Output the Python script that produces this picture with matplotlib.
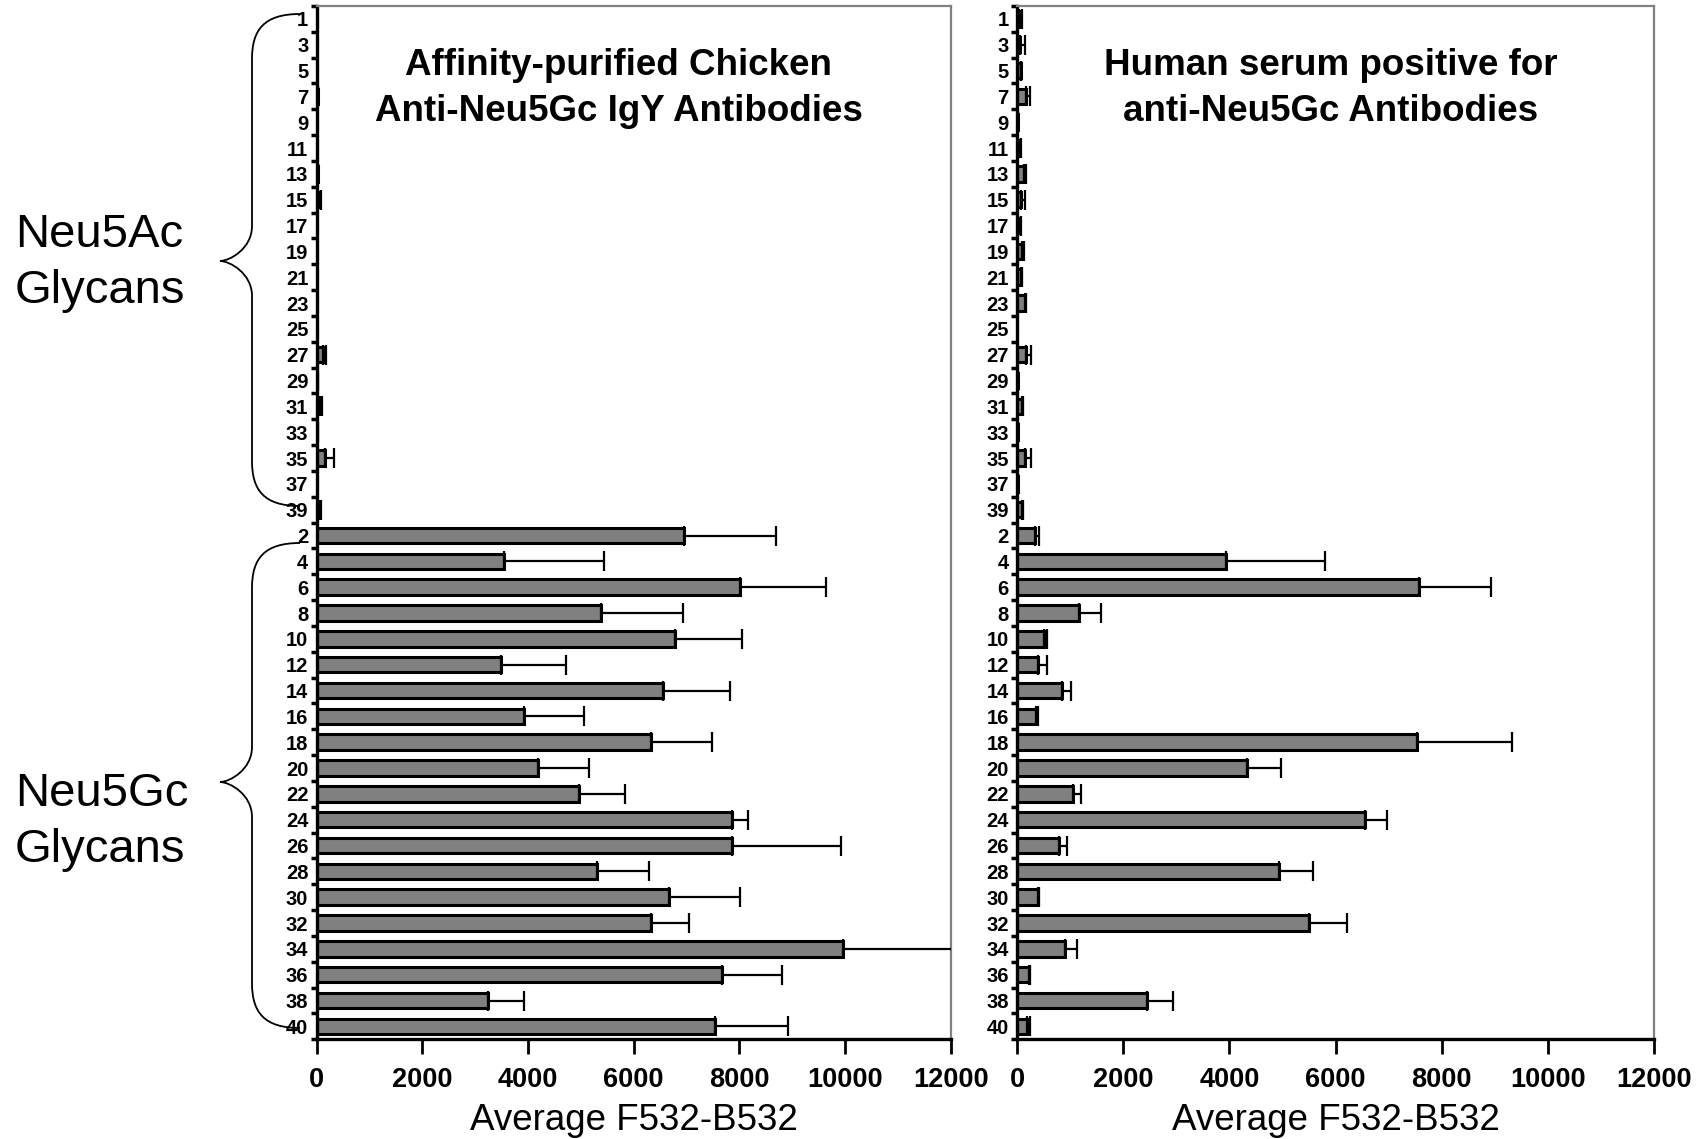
import matplotlib
matplotlib.use("Agg")
import matplotlib.pyplot as plt
from matplotlib.path import Path
from matplotlib.patches import PathPatch
import numpy as np

plt.rcParams['font.family'] = ['Liberation Sans', 'DejaVu Sans']

# ---------------- data ----------------
glycans_ac = ["1", "3", "5", "7", "9", "11", "13", "15", "17", "19",
              "21", "23", "25", "27", "29", "31", "33", "35", "37", "39"]
glycans_gc = ["2", "4", "6", "8", "10", "12", "14", "16", "18", "20",
              "22", "24", "26", "28", "30", "32", "34", "36", "38", "40"]

chicken_ac = [10, 10, 10, 20, 10, 10, 20, 30, 10, 10,
              10, 10, 10, 115, 15, 60, 15, 160, 10, 45]
chicken_ac_err = [5, 5, 5, 5, 5, 5, 5, 50, 5, 5,
                  5, 5, 5, 60, 5, 35, 5, 175, 5, 30]
chicken_gc = [6960, 3550, 8020, 5390, 6780, 3480, 6550, 3930, 6330, 4190,
              4970, 7870, 7870, 5310, 6670, 6330, 9970, 7680, 3250, 7530]
chicken_gc_err = [1740, 1880, 1620, 1540, 1270, 1230, 1280, 1120, 1160, 970,
                  870, 290, 2050, 980, 1340, 710, 2400, 1130, 680, 1390]

human_ac = [30, 50, 70, 175, 10, 20, 130, 70, 10, 95,
            70, 145, 5, 175, 15, 100, 10, 145, 10, 95]
human_ac_err = [65, 95, 10, 65, 0, 60, 35, 90, 60, 30,
                25, 20, 0, 85, 0, 15, 0, 115, 0, 20]
human_gc = [340, 3930, 7570, 1175, 500, 390, 850, 355, 7530, 4330,
            1060, 6550, 790, 4940, 390, 5500, 910, 230, 2450, 190]
human_gc_err = [80, 1880, 1350, 405, 60, 170, 160, 35, 1800, 640,
                150, 420, 160, 640, 30, 710, 220, 10, 480, 60]

xticks = [0, 2000, 4000, 6000, 8000, 10000, 12000]
xlabel = "Average F532-B532"
titles = ["Affinity-purified Chicken\nAnti-Neu5Gc IgY Antibodies",
          "Human serum positive for\nanti-Neu5Gc Antibodies"]
group_labels = ["Neu5Ac\nGlycans", "Neu5Gc\nGlycans"]

# ---------------- figure ----------------
W, H = 1703, 1139
fig = plt.figure(figsize=(W / 100, H / 100), dpi=100)

def fx(px):
    return px / W

def fy(py):
    return 1 - py / H

ax_bottom = fy(1039.3)
ax_height = fy(6) - fy(1039.3)
axes_pos = [(316.7, 634), (1017, 637)]

cats = glycans_ac + glycans_gc
ypos = np.arange(len(cats))

panels = [(chicken_ac + chicken_gc, chicken_ac_err + chicken_gc_err, 0.476),
          (human_ac + human_gc, human_ac_err + human_gc_err, 0.493)]

for i, ((x0, w), (vals, errs, tx)) in enumerate(zip(axes_pos, panels)):
    ax = fig.add_axes([fx(x0), ax_bottom, w / W, ax_height])
    ax.barh(ypos, vals, height=0.6, color='#808080', edgecolor='black',
            linewidth=2.2, zorder=2)
    ax.errorbar(vals, ypos, xerr=[np.zeros(len(errs)), errs], fmt='none',
                ecolor='black', elinewidth=1.6, capsize=7, capthick=1.6,
                zorder=3)
    ax.set_ylim(len(cats) - 0.5, -0.5)
    ax.set_xlim(0, 12000)
    ax.set_yticks(ypos)
    ax.set_yticklabels(cats, fontsize=14.5, fontweight='bold')
    ax.set_yticks(np.arange(len(cats) + 1) - 0.5, minor=True)
    ax.tick_params(axis='y', which='major', length=0, pad=6)
    ax.tick_params(axis='y', which='minor', length=4, width=2.5,
                   direction='out', color='black')
    ax.set_xticks(xticks)
    ax.set_xticklabels([str(t) for t in xticks], fontsize=19.5,
                       fontweight='bold')
    ax.tick_params(axis='x', which='major', length=11, width=2,
                   direction='out', pad=9)
    for s in ['left', 'bottom']:
        ax.spines[s].set_color('black')
        ax.spines[s].set_linewidth(2.4)
    for s in ['top', 'right']:
        ax.spines[s].set_color('#808080')
        ax.spines[s].set_linewidth(1.6)
    ax.set_xlabel(xlabel, fontsize=26.5, labelpad=7)
    ax.text(tx, 0.9202, titles[i], transform=ax.transAxes, ha='center',
            va='center', fontsize=26.5, fontweight='bold', linespacing=1.4)

# group labels
fig.text(fx(15), fy(263), group_labels[0], ha='left', va='center',
         fontsize=34, linespacing=1.36)
fig.text(fx(15), fy(822), group_labels[1], ha='left', va='center',
         fontsize=34, linespacing=1.36)


def brace(x_end, x_line, x_tip, y_top, y_mid, y_bot, r=45, r2=35):
    pts = [
        (x_end, y_top),
        (x_line + (x_end - x_line) * 0.25, y_top), (x_line, y_top + r * 0.35), (x_line, y_top + r),
        (x_line, y_mid - r2),
        (x_line, y_mid - r2 * 0.35), (x_tip + (x_line - x_tip) * 0.3, y_mid), (x_tip, y_mid),
        (x_tip + (x_line - x_tip) * 0.3, y_mid), (x_line, y_mid + r2 * 0.35), (x_line, y_mid + r2),
        (x_line, y_bot - r),
        (x_line, y_bot - r * 0.35), (x_line + (x_end - x_line) * 0.25, y_bot), (x_end, y_bot),
    ]
    codes = [Path.MOVETO,
             Path.CURVE4, Path.CURVE4, Path.CURVE4,
             Path.LINETO,
             Path.CURVE4, Path.CURVE4, Path.CURVE4,
             Path.CURVE4, Path.CURVE4, Path.CURVE4,
             Path.LINETO,
             Path.CURVE4, Path.CURVE4, Path.CURVE4]
    verts = [(fx(x), fy(y)) for x, y in pts]
    patch = PathPatch(Path(verts, codes), facecolor='none', edgecolor='black',
                      linewidth=1.3, transform=fig.transFigure)
    fig.add_artist(patch)


brace(300, 252, 220, 14, 261, 506)
brace(300, 252, 220, 543, 782, 1028)

fig.savefig("out.png", dpi=100)
